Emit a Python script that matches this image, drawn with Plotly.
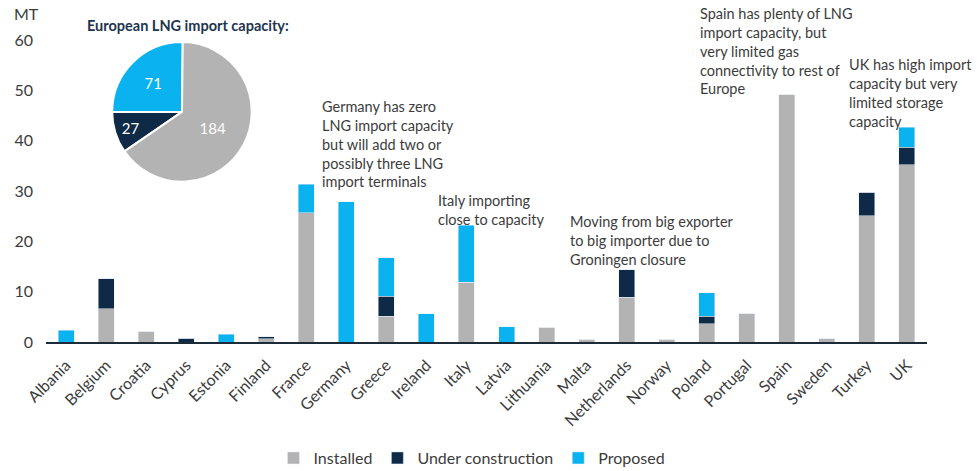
import plotly.graph_objects as go

# European LNG import capacity by country (MT)
countries = ["Albania", "Belgium", "Croatia", "Cyprus", "Estonia", "Finland", "France",
             "Germany", "Greece", "Ireland", "Italy", "Latvia", "Lithuania", "Malta",
             "Netherlands", "Norway", "Poland", "Portugal", "Spain", "Sweden", "Turkey", "UK"]
installed = [0, 6.6, 2.0, 0, 0, 0.65, 25.7, 0, 5.1, 0, 11.9, 0, 2.95, 0.5,
             8.9, 0.5, 3.65, 5.6, 49.1, 0.6, 25.1, 35.2]
under_construction = [0, 6.0, 0, 0.75, 0, 0.4, 0, 0, 3.95, 0, 0, 0, 0, 0,
                      5.5, 0, 1.45, 0, 0, 0, 4.7, 3.45]
proposed = [2.3, 0, 0, 0, 1.5, 0, 5.6, 27.9, 7.65, 5.6, 11.3, 3.0, 0, 0,
            0, 0, 4.65, 0, 0, 0, 0, 4.0]

# Europe-wide totals for the inset pie
pie_labels = ["Proposed", "Under construction", "Installed"]
pie_values = [71, 27, 184]

GREY = "#B3B3B3"
NAVY = "#0E2A47"
CYAN = "#0AB2F0"
TEXT = "#3C3C3C"
FONT = "Lato"

fig = go.Figure()
fig.add_trace(go.Bar(x=countries, y=installed, name="Installed", marker_color=GREY))
fig.add_trace(go.Bar(x=countries, y=under_construction, name="Under construction", marker_color=NAVY))
fig.add_trace(go.Bar(x=countries, y=proposed, name="Proposed", marker_color=CYAN))

fig.add_trace(go.Pie(
    labels=pie_labels, values=pie_values, sort=False, direction="counterclockwise",
    rotation=-90, marker=dict(colors=[CYAN, NAVY, GREY], line=dict(color="white", width=2)),
    textinfo="value", textfont=dict(color="white", size=15, family=FONT),
    insidetextorientation="horizontal", showlegend=False, hoverinfo="label+value",
    domain=dict(x=[0.0749, 0.2338], y=[0.531, 0.993]),
))

notes = [
    ("Germany has zero<br>LNG import capacity<br>but will add two or<br>possibly three LNG<br>import terminals", 320, 96),
    ("Italy importing<br>close to capacity", 436, 190),
    ("Moving from big exporter<br>to big importer due to<br>Groningen closure", 568, 211),
    ("Spain has plenty of LNG<br>import capacity, but<br>very limited gas<br>connectivity to rest of<br>Europe", 698, 3),
    ("UK has high import<br>capacity but very<br>limited storage<br>capacity", 847, 54),
]

L, R, T, B = 46, 52, 40, 128.5
W, H = 979, 471
pw, ph = W - L - R, H - T - B


def px(xp):
    return (xp - L) / pw


def py(yp):
    return (H - B - yp) / ph


annotations = []
for text, xl, yt in notes:
    annotations.append(dict(text=text, x=px(xl), y=py(yt), xref="paper", yref="paper",
                            xanchor="left", yanchor="top", align="left", showarrow=False,
                            font=dict(family=FONT, size=14.5, color=TEXT)))

annotations.append(dict(text="<b>European LNG import capacity:</b>", x=px(188), y=py(25),
                        xref="paper", yref="paper", xanchor="center", yanchor="middle",
                        showarrow=False, font=dict(family=FONT, size=14.5, color="#1E3550")))
annotations.append(dict(text="MT", x=px(12), y=py(13), xref="paper", yref="paper",
                        xanchor="left", yanchor="middle", showarrow=False,
                        font=dict(family=FONT, size=16, color=TEXT)))

fig.update_layout(
    barmode="stack",
    bargap=0.6,
    width=W, height=H,
    margin=dict(l=L, r=R, t=T, b=B, autoexpand=False),
    paper_bgcolor="white", plot_bgcolor="white",
    font=dict(family=FONT, color=TEXT),
    annotations=annotations,
    legend=dict(orientation="h", x=px(472), xanchor="center",
                yref="container", y=1 - 458 / H, yanchor="middle",
                font=dict(family=FONT, size=16, color=TEXT), itemwidth=30,
                traceorder="normal"),
    xaxis=dict(showgrid=False, showline=True, linecolor="#1C2B3A", linewidth=1.5,
               tickangle=-45, tickfont=dict(family=FONT, size=16, color=TEXT),
               ticks="", automargin=False, ticklabelstandoff=6,
               range=[-0.5, len(countries) - 0.5]),
    yaxis=dict(range=[0, 60], dtick=10, showgrid=False, zeroline=False, showline=False,
               automargin=False,
               tickfont=dict(family=FONT, size=16, color=TEXT), ticklabelstandoff=12),
)

fig.write_html("out.html")
